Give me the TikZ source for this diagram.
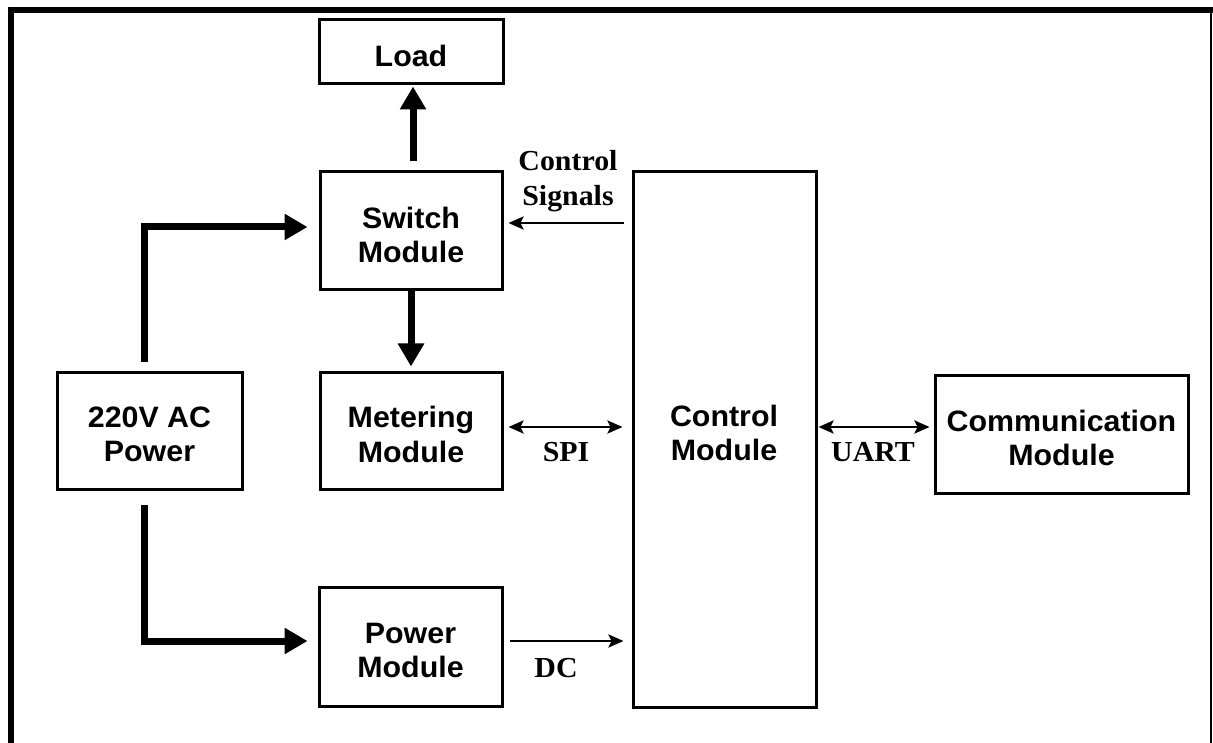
\documentclass[tikz,border=0pt]{standalone}
\usepackage{fontspec}
\usetikzlibrary{arrows.meta,calc}
\newfontfamily\boxfont{Liberation Sans}[FakeStretch=1.03]
\newfontfamily\labfont{Liberation Serif}[FakeStretch=1.03]
\tikzset{
  txt/.style={inner sep=0pt, align=center,
    font=\boxfont\bfseries\fontsize{29.5}{34.5}\selectfont},
  blk/.style={draw, line width=3pt, inner sep=0pt,
    label={[txt,yshift=-4pt]center:#1}},
  lab/.style={inner sep=0pt, align=center,
    font=\labfont\bfseries\fontsize{29}{35}\selectfont},
  thickarrow/.style={line width=7pt, -{Triangle[length=23pt,width=25pt]}},
  sighead/.style={},
  thinarrow/.style={line width=2.5pt, -{Stealth[length=15pt,width=13pt,inset=3pt]}},
  dblarrow/.style={line width=2.5pt, {Stealth[length=15pt,width=13pt,inset=3pt]}-{Stealth[length=15pt,width=13pt,inset=3pt]}},
}
\begin{document}
\begin{tikzpicture}[x=1pt,y=-1pt]
\useasboundingbox (0,0) rectangle (1213,743);
% frame
\draw[line width=6pt] (8,10) -- (1213,10);
\draw[line width=6pt] (11,7) -- (11,743);
\draw[line width=2pt] (1211,10) -- (1211,743);
% blocks
\node[blk={Load}, minimum width=184pt, minimum height=64pt] (load) at (411,52) {};
\node[blk={Switch\\Module}, minimum width=182pt, minimum height=118pt] (sw) at (411,231) {};
\node[blk={Metering\\Module}, minimum width=182pt, minimum height=117pt] (met) at (411,430.5) {};
\node[blk={Power\\Module}, minimum width=183pt, minimum height=119pt] (pw) at (410.5,646.5) {};
\node[blk={220V AC\\Power}, minimum width=185pt, minimum height=117pt] (ac) at (149.5,430.5) {};
\node[draw, line width=3pt, inner sep=0pt, minimum width=183pt, minimum height=535pt] (ctrl) at (724.5,439.5) {};
\node[txt] (ctrltext) at (724,433) {Control\\Module};
\node[blk={Communication\\Module}, minimum width=253pt, minimum height=118pt] (comm) at (1061.5,434) {};
% thick power arrows
\draw[thickarrow, shorten <=9pt, shorten >=1pt] ([xshift=2pt]sw.north) -- ([xshift=2pt]load.south);
\draw[thickarrow, shorten >=4pt] (sw.south) -- (met.north);
\draw[thickarrow, shorten <=9pt, shorten >=11pt] ([xshift=-5.5pt]ac.north) |- ([yshift=4pt]sw.west);
\draw[thickarrow, shorten <=14pt, shorten >=10pt] ([xshift=-5.5pt]ac.south) |- ([yshift=5.5pt]pw.west);
% thin signal arrows
\draw[thinarrow, shorten <=8pt, shorten >=5pt] ($(sw.east -| ctrl.west)+(0,8pt)$) -- ($(sw.east)+(0,8pt)$);
\draw[dblarrow, shorten <=5pt, shorten >=9pt] ($(met.east)+(0,3.5pt)$) -- ($(met.east -| ctrl.west)+(0,3.5pt)$);
\draw[dblarrow, shorten <=1pt, shorten >=4pt] ($(ctrl.east |- met.east)+(0,3.5pt)$) -- ($(met.east -| comm.west)+(0,3.5pt)$);
\draw[thinarrow, shorten <=6pt, shorten >=8pt] ($(pw.east)+(0,5.5pt)$) -- ($(pw.east -| ctrl.west)+(0,5.5pt)$);
% labels
\node[lab] (lcs) at (568,181) {Control\\Signals};
\node[lab] (lspi) at (566,452) {SPI};
\node[lab] (luart) at (873,452) {UART};
\node[lab] (ldc) at (556,668) {DC};
\end{tikzpicture}
\end{document}
